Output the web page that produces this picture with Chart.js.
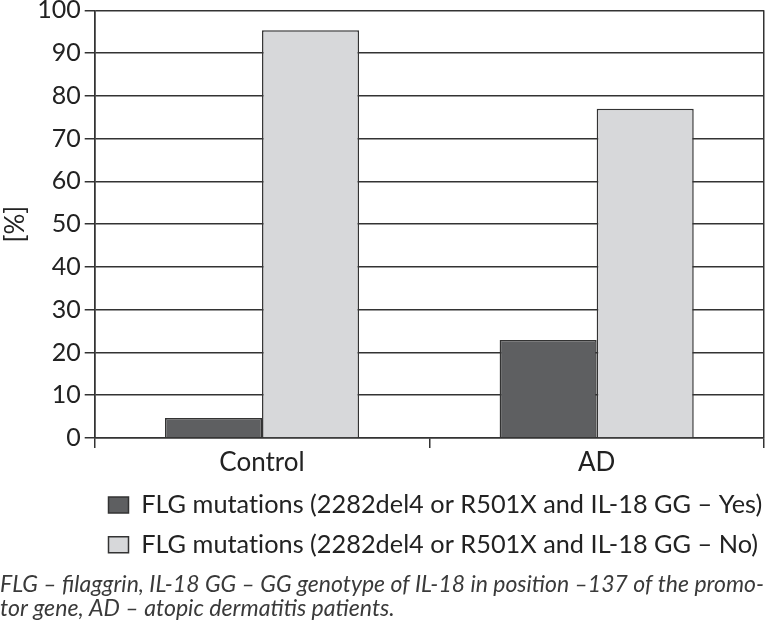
<!DOCTYPE html>
<html>
<head>
<meta charset="utf-8">
<script src="https://cdn.jsdelivr.net/npm/chart.js@4/dist/chart.umd.min.js"></script>
<style>
html,body{margin:0;padding:0;background:#fff;}
#wrap{width:766px;height:635px;position:relative;}
</style>
</head>
<body>
<div id="wrap"><canvas id="c" width="766" height="635"></canvas></div>
<script>
const categories = ["Control", "AD"];
const yesValues = [4.7, 22.9];
const noValues = [95.3, 77.0];
const seriesLabels = [
  "FLG mutations (2282del4 or R501X and IL-18 GG – Yes)",
  "FLG mutations (2282del4 or R501X and IL-18 GG – No)"
];
const yTicks = [0,10,20,30,40,50,60,70,80,90,100];
const yTitle = "[%]";
const caption = [
  "FLG – filaggrin, IL-18 GG – GG genotype of IL-18 in position –137 of the promo-",
  "tor gene, AD – atopic dermatitis patients."
];

const LINE = '#333333';
const TXT = '#222222';

// shifts the (left-aligned) legend block so it sits under the right part of the plot,
// and draws its text without the "ti" ligature
const legendShift = {
  id: 'legendShift',
  beforeDraw(chart) {
    const lg = chart.legend;
    if (lg && !lg._shifted) {
      lg.left += 94; lg.right += 94; lg._shifted = true;
      const orig = lg.draw;
      lg.draw = function (...args) {
        const c = this.ctx;
        const prev = c.letterSpacing;
        try { c.letterSpacing = '0.01px'; } catch (e) {}
        orig.apply(this, args);
        try { c.letterSpacing = prev; } catch (e) {}
      };
    }
  }
};

new Chart(document.getElementById('c'), {
  type: 'bar',
  data: {
    labels: categories,
    datasets: [
      { label: seriesLabels[0], data: yesValues, backgroundColor: '#5e5f61', borderColor: LINE, borderWidth: 1.5 },
      { label: seriesLabels[1], data: noValues, backgroundColor: '#d7d8da', borderColor: LINE, borderWidth: 1.5 }
    ]
  },
  plugins: [legendShift],
  options: {
    responsive: false,
    animation: false,
    devicePixelRatio: 1,
    layout: { padding: { top: 0, right: 2, left: 0, bottom: 14 } },
    datasets: { bar: { barPercentage: 1, categoryPercentage: 0.58 } },
    scales: {
      x: {
        offset: true,
        grid: {
          offset: true,
          display: true,
          color: (ctx) => ctx.index === 1 ? 'rgba(0,0,0,0)' : LINE,
          tickColor: LINE,
          tickLength: 10,
          lineWidth: 1.5
        },
        border: { display: true, color: LINE, width: 1.5 },
        ticks: { color: TXT, font: { family: 'Lato', size: 26, lineHeight: 1.15 }, padding: 0 }
      },
      y: {
        min: 0, max: 100,
        afterBuildTicks: (axis) => { axis.ticks = yTicks.map(v => ({ value: v })); },
        grid: { color: LINE, tickColor: LINE, tickLength: 10, lineWidth: 1.5 },
        border: { display: true, color: LINE, width: 1.5 },
        ticks: { color: TXT, font: { family: 'Lato', size: 25, lineHeight: 0.5 }, padding: 4 },
        title: { display: true, text: yTitle, color: TXT, font: { family: 'Lato', size: 26 }, padding: { top: 0, bottom: 2 } }
      }
    },
    plugins: {
      legend: {
        position: 'bottom',
        align: 'start',
        labels: {
          color: TXT,
          font: { family: 'Lato', size: 25.3 },
          boxWidth: 20,
          boxHeight: 16,
          padding: 14.5
        }
      },
      title: {
        display: true,
        position: 'bottom',
        align: 'start',
        text: caption,
        color: '#3a3a3a',
        font: { family: 'Lato', size: 23.1, style: 'italic', weight: 'normal', lineHeight: 1.05 },
        padding: { top: 5, bottom: 0 }
      },
      tooltip: { enabled: false }
    }
  }
});
</script>
</body>
</html>
